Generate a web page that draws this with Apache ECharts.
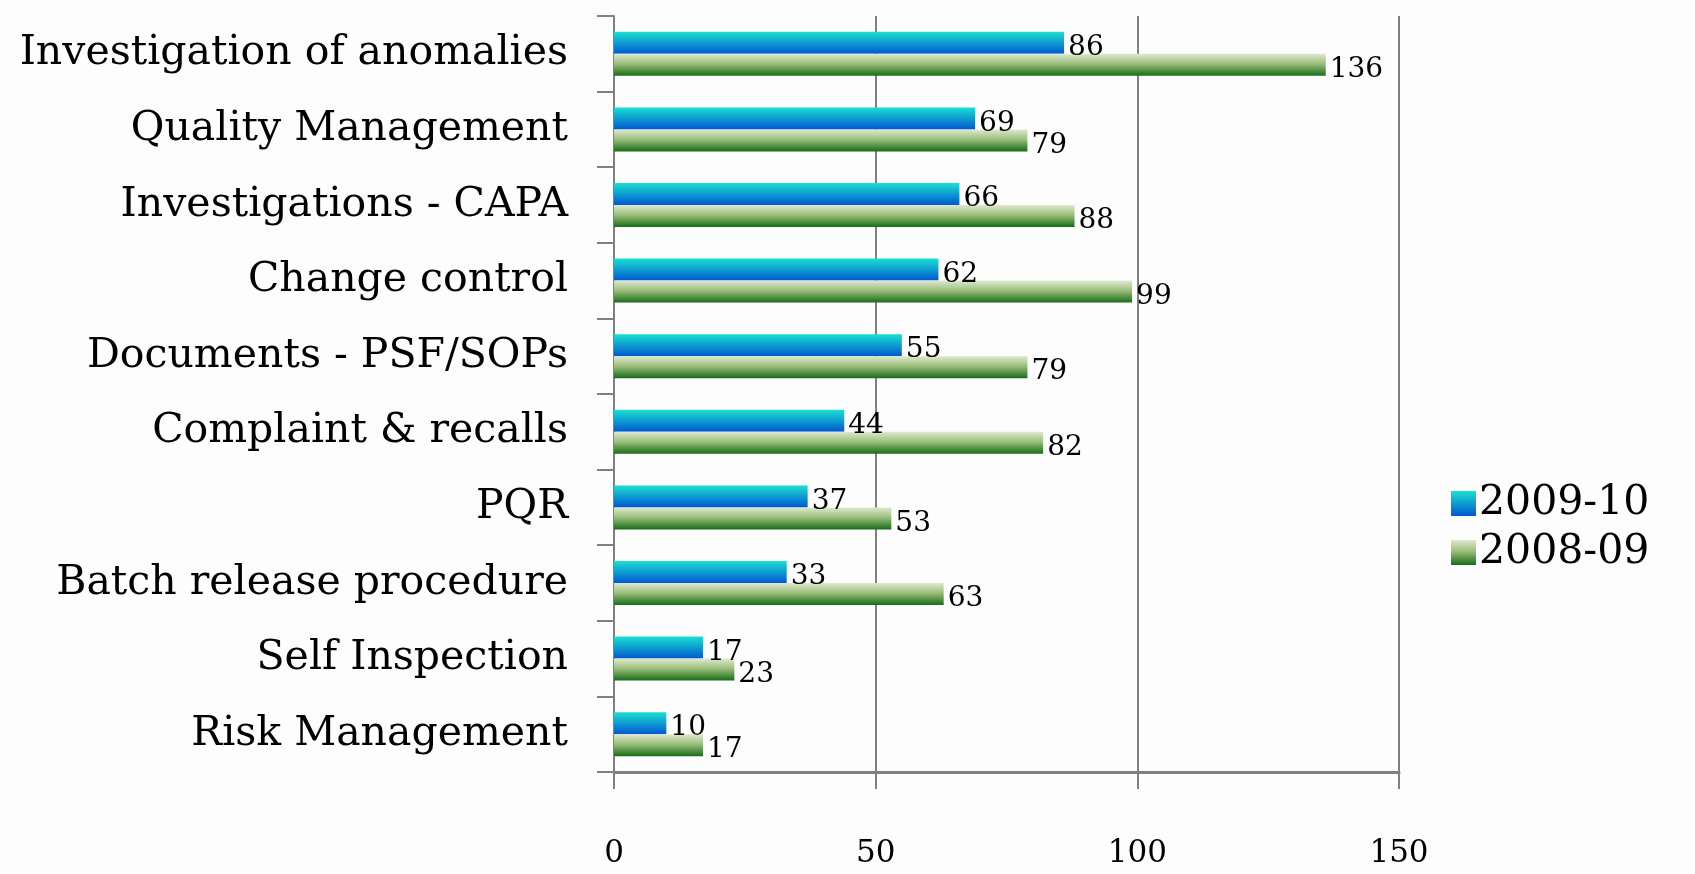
<!DOCTYPE html>
<html>
<head>
<meta charset="utf-8">
<script src="https://cdn.jsdelivr.net/npm/echarts@6/dist/echarts.min.js"></script>
<style>
  html, body { margin: 0; padding: 0; background: #fdfdfd; }
  #chart { width: 1695px; height: 874px; }
</style>
</head>
<body>
<div id="chart"></div>
<script>
// Audit observation categories, listed top to bottom
const categories = [
  'Investigation of anomalies',
  'Quality Management',
  'Investigations - CAPA',
  'Change control',
  'Documents - PSF/SOPs',
  'Complaint & recalls',
  'PQR',
  'Batch release procedure',
  'Self Inspection',
  'Risk Management'
];
const seriesNames = ['2009-10', '2008-09'];
const values2009 = [86, 69, 66, 62, 55, 44, 37, 33, 17, 10];
const values2008 = [136, 79, 88, 99, 79, 82, 53, 63, 23, 17];
const axisTicks = [0, 50, 100, 150];

const serif = '"DejaVu Serif", "Liberation Serif", serif';
const gray = '#808080';

const blueFill = new echarts.graphic.LinearGradient(0, 0, 0, 1, [
  { offset: 0, color: '#1be0d0' },
  { offset: 1, color: '#0058d0' }
]);
const greenFill = new echarts.graphic.LinearGradient(0, 0, 0, 1, [
  { offset: 0, color: '#dfe9cf' },
  { offset: 0.45, color: '#9cbf7c' },
  { offset: 1, color: '#176c17' }
]);

const valueLabel = {
  show: true,
  position: 'right',
  distance: 4,
  offset: [0, 5],
  color: '#000',
  fontFamily: serif,
  fontSize: 28
};

const chart = echarts.init(document.getElementById('chart'));
chart.setOption({
  backgroundColor: '#fdfdfd',
  animation: false,
  grid: { left: 614, right: 296, top: 16, bottom: 102, outerBoundsMode: 'none', containLabel: false },
  legend: {
    orient: 'vertical',
    left: 1446,
    top: 478,
    itemWidth: 25,
    itemHeight: 25,
    itemGap: 8,
    icon: 'rect',
    data: seriesNames,
    textStyle: { fontFamily: serif, fontSize: 41, color: '#000', padding: [0, 0, 0, -2] }
  },
  xAxis: {
    type: 'value',
    min: axisTicks[0],
    max: axisTicks[axisTicks.length - 1],
    interval: axisTicks[1] - axisTicks[0],
    axisLine: { show: true, lineStyle: { color: gray, width: 3 } },
    axisTick: { show: true, length: 17, lineStyle: { color: gray, width: 2 } },
    splitLine: { show: true, lineStyle: { color: gray, width: 2 } },
    axisLabel: { margin: 66, color: '#000', fontFamily: serif, fontSize: 31 }
  },
  yAxis: {
    type: 'category',
    inverse: true,
    data: categories,
    axisLine: { show: true, lineStyle: { color: gray, width: 2 } },
    axisTick: { show: true, length: 17, lineStyle: { color: gray, width: 2 } },
    axisLabel: { margin: 46, color: '#000', fontFamily: serif, fontSize: 41 }
  },
  series: [
    {
      name: seriesNames[0],
      type: 'bar',
      data: values2009,
      barWidth: 22,
      barGap: '0%',
      itemStyle: { color: blueFill },
      label: valueLabel
    },
    {
      name: seriesNames[1],
      type: 'bar',
      data: values2008,
      barWidth: 22,
      barGap: '0%',
      itemStyle: { color: greenFill },
      label: valueLabel
    }
  ]
});
</script>
</body>
</html>
